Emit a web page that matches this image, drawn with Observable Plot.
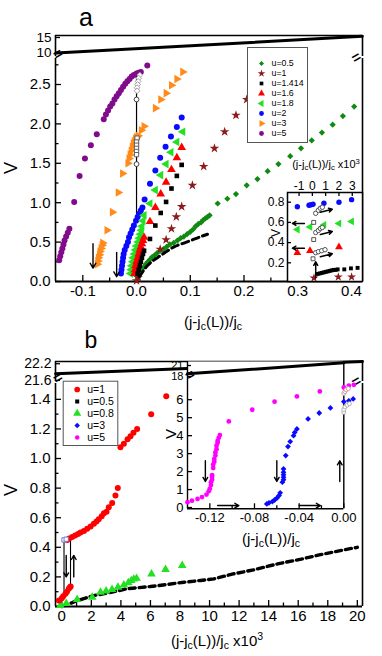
<!DOCTYPE html>
<html><head><meta charset="utf-8">
<script src="https://cdn.jsdelivr.net/npm/d3@7"></script>
<script src="https://cdn.jsdelivr.net/npm/@observablehq/plot@0.6"></script>
<style>
body{margin:0;background:#fff;}
#root{position:relative;width:382px;height:656px;overflow:hidden;font-family:"Liberation Sans",Arial,Helvetica,sans-serif;color:#000;}
#root svg{position:absolute;left:0;top:0;}
.lbl{position:absolute;white-space:nowrap;line-height:1;}
.lbl sub{font-size:70%;vertical-align:-0.3em;line-height:0;}
.lbl sup{font-size:70%;vertical-align:0.5em;line-height:0;}
</style></head><body><div id="root"></div>
<script>
// ================= DATA =================
// Panel a, main: [x = (j-jc(L))/jc, V]
const a_u05 = [[0.002,0.04],[0.005,0.09],[0.009,0.14],[0.013,0.18],[0.017,0.22],[0.021,0.25],[0.025,0.28],[0.029,0.31],[0.033,0.33],[0.038,0.36],[0.044,0.39],[0.050,0.41],[0.056,0.44],[0.062,0.47],[0.069,0.49],[0.076,0.52],[0.082,0.55],[0.088,0.57],[0.094,0.60],[0.100,0.63],[0.105,0.66],[0.110,0.70],[0.115,0.73],[0.120,0.75],[0.124,0.78],[0.128,0.80],[0.132,0.82],[0.136,0.84],[0.151,0.99],[0.169,1.05],[0.185,1.11],[0.205,1.22],[0.225,1.30],[0.244,1.40],[0.264,1.49],[0.286,1.59],[0.306,1.69],[0.326,1.79],[0.345,1.89],[0.365,1.99],[0.384,2.10],[0.405,2.22]];
const a_u1 = [[0.0,0.01],[0.003,0.05],[0.044,0.41],[0.055,0.53],[0.065,0.67],[0.074,0.82],[0.084,0.95],[0.104,1.22],[0.125,1.46],[0.145,1.69],[0.164,1.90],[0.185,2.11],[0.205,2.31]];
const a_u1414 = [[0.002,0.10],[0.004,0.15],[0.006,0.20],[0.008,0.25],[0.010,0.30],[0.012,0.35],[0.014,0.39],[0.025,0.54],[0.035,0.71],[0.045,0.87],[0.055,1.01],[0.065,1.18],[0.075,1.34],[0.084,1.48]];
const a_u1414low = [[0.005,0.06],[0.011,0.12],[0.020,0.20],[0.030,0.26],[0.045,0.33],[0.058,0.39],[0.070,0.44],[0.085,0.48],[0.101,0.52],[0.116,0.56],[0.132,0.60]];
const a_u16 = [[-0.004,0.10],[-0.003,0.15],[-0.002,0.20],[0.000,0.25],[0.002,0.30],[0.004,0.35],[0.006,0.40],[0.008,0.44],[0.010,0.48],[0.012,0.52],[0.014,0.56],[0.025,0.76],[0.035,0.94],[0.045,1.11],[0.055,1.26],[0.065,1.42],[0.075,1.57],[0.084,1.70]];
const a_u18 = [[-0.011,0.10],[-0.010,0.15],[-0.009,0.20],[-0.007,0.25],[-0.006,0.30],[-0.004,0.35],[-0.002,0.40],[0.000,0.45],[0.003,0.50],[0.005,0.55],[0.007,0.60],[0.009,0.65],[0.010,0.70],[0.012,0.77],[0.014,0.84],[0.025,0.99],[0.035,1.16],[0.045,1.35],[0.055,1.49],[0.064,1.64],[0.075,1.77],[0.086,1.90]];
const a_u2 = [[-0.029,0.10],[-0.028,0.15],[-0.027,0.20],[-0.026,0.25],[-0.025,0.30],[-0.024,0.35],[-0.022,0.40],[-0.019,0.45],[-0.016,0.50],[-0.014,0.56],[-0.011,0.61],[-0.008,0.66],[-0.005,0.71],[-0.001,0.77],[0.002,0.82],[0.005,0.86],[0.008,0.90],[0.011,0.94],[0.015,1.04],[0.025,1.24],[0.035,1.41],[0.044,1.57],[0.054,1.71],[0.064,1.84],[0.075,1.96],[0.084,2.08]];
const a_u3 = [[-0.073,0.22],[-0.072,0.26],[-0.071,0.30],[-0.069,0.34],[-0.068,0.38],[-0.066,0.42],[-0.064,0.46],[-0.063,0.49],[-0.055,0.65],[-0.045,0.88],[-0.034,1.13],[-0.026,1.37],[-0.016,1.50],[-0.014,1.56],[-0.012,1.61],[-0.010,1.66],[-0.008,1.71],[-0.006,1.75],[-0.004,1.78],[-0.002,1.81],[0.000,1.83],[0.003,1.85],[0.009,1.92],[0.014,1.97],[0.035,2.20],[0.045,2.31],[0.055,2.39],[0.065,2.49],[0.075,2.57],[0.086,2.66]];
const a_u5 = [[-0.144,0.27],[-0.142,0.32],[-0.140,0.37],[-0.138,0.42],[-0.136,0.47],[-0.134,0.52],[-0.131,0.57],[-0.128,0.62],[-0.125,0.67],[-0.116,1.01],[-0.106,1.34],[-0.096,1.56],[-0.085,1.73],[-0.074,1.87],[-0.061,2.06],[-0.057,2.12],[-0.053,2.17],[-0.049,2.22],[-0.045,2.26],[-0.041,2.31],[-0.037,2.35],[-0.033,2.39],[-0.029,2.43],[-0.025,2.47],[-0.021,2.51],[-0.017,2.54],[-0.013,2.57],[-0.009,2.60],[-0.005,2.62],[0.000,2.64],[0.004,2.65],[0.008,2.66],[0.020,2.74]];
const a_hystLine = [[0,0.86],[0,2.66]];
const a_openDiamonds = [[0.006,2.62],[0.004,2.58],[0.003,2.54],[0.002,2.50],[0.001,2.46],[0.001,2.42]];
const a_openCircles = [[0,2.31],[0,1.49]];
const a_openSquares = [[0.001,1.82],[0.0,1.77],[0.0,1.73],[0.0,1.69],[0.0,1.65],[0.0,1.61]];
const a_arrows = [[-0.081,0.48,-0.081,0.17],[-0.037,0.37,-0.037,0.06]];
const a_highLine = [[-0.15,9.8],[0.42,15.4]];
const a_labels = ["u=0.5","u=1","u=1.414","u=1.6","u=1.8","u=2","u=3","u=5"];
const a_colors = ["#118a11","#8b1c1c","#000000","#ff0000","#22e022","#0a0aff","#ff8c1a","#800c8c"];
// Panel a ticks
const a_xTicks = [-0.1,0,0.1,0.2,0.3,0.4];
const a_xMinor = [-0.05,0.05,0.15,0.25,0.35];
const a_yTicks = [0,0.5,1,1.5,2,2.5];
const a_yMinor = [0.25,0.75,1.25,1.75,2.25,2.75];
const a_hiTicks = [10,15];

// Panel a inset: [x (x10^3), V]
const ai_u2 = [[-1.13,0.755],[-0.25,0.77],[-0.1,0.775],[0.05,0.78],[0.87,0.79],[2.0,0.80],[2.95,0.825]];
const ai_u18 = [[-1.13,0.53],[-0.18,0.555],[0.87,0.575],[2.0,0.59],[2.95,0.61]];
const ai_u16 = [[-1.13,0.30],[-0.18,0.32],[2.0,0.356]];
const ai_u1414 = [[0.4,0.09],[0.55,0.095],[0.7,0.10],[0.85,0.105],[1.0,0.11],[1.15,0.115],[1.3,0.12],[1.45,0.125],[1.6,0.13],[1.75,0.13],[1.9,0.135],[2.4,0.135],[2.9,0.145],[3.4,0.15]];
const ai_u1 = [[0.12,0.05],[1.95,0.06],[2.95,0.06]];
const ai_openCircles = [[0.25,0.69],[0.45,0.72],[0.6,0.74],[0.75,0.75],[0.25,0.50],[0.45,0.52],[0.6,0.54],[0.75,0.55],[0.25,0.30],[0.45,0.31],[0.7,0.32],[0.95,0.33]];
const ai_openSquares = [[0.1,0.60],[0.1,0.43],[0.05,0.24]];
const ai_arrows = [[-0.6,0.59,-1.5,0.59],[-0.6,0.345,-1.5,0.345],[0.6,0.70,1.5,0.73],[0.6,0.48,1.5,0.51],[0.6,0.26,1.5,0.29],[0.25,0.05,0.25,0.21]];
const ai_xTicks = [-1,0,1,2,3];
const ai_yTicks = [0.2,0.4,0.6,0.8];

// Panel b, main: [x (x10^3), V]
const b_u1 = [[-0.2,0.04],[0.0,0.055],[0.1,0.07],[0.25,0.086],[0.35,0.10],[0.47,0.12],[0.55,0.13],[0.6,0.135],[0.37,0.45],[0.5,0.46],[0.7,0.47],[0.9,0.48],[1.1,0.49],[1.27,0.50],[1.5,0.51],[1.72,0.525],[1.95,0.54],[2.17,0.56],[2.35,0.575],[2.5,0.59],[2.7,0.61],[2.85,0.63],[3.03,0.64],[3.18,0.67],[3.41,0.70],[3.63,0.75],[3.79,0.80],[3.97,1.076],[4.2,1.10],[4.45,1.13],[4.65,1.15],[4.85,1.175],[5.1,1.20],[6.05,1.30],[7.07,1.42]];
const b_u05 = [[0.0,0.0],[0.25,0.007],[1.04,0.04],[2.17,0.074],[3.07,0.09],[4.43,0.12],[6.0,0.135],[7.13,0.149],[8.26,0.164],[9.39,0.176],[10.3,0.187],[11.6,0.22],[13.0,0.248],[14.6,0.288],[16.2,0.32],[17.5,0.35],[19.1,0.383],[20.0,0.40]];
const b_u08 = [[-0.09,0.007],[0.3,0.02],[1.04,0.047],[2.06,0.063],[2.62,0.097],[3.0,0.105],[3.4,0.115],[3.8,0.13],[4.2,0.145],[4.5,0.16],[4.7,0.175],[4.87,0.185],[5.06,0.19],[6.07,0.22],[7.02,0.25],[8.15,0.277]];
const b_hyst = [[0.15,0.09,0.15,0.45],[0.59,0.135,0.59,0.46]];
const b_arrows = [[0.3,0.345,0.3,0.2],[0.81,0.2,0.81,0.345]];
const b_open = [[0.15,0.45],[0.3,0.455]];
const b_highLine = [[-0.42,21.84],[20.35,22.28]];
const b_labels = ["u=1","u=0.5","u=0.8","u=3","u=5"];
const b_colors = ["#ff0000","#000000","#22e022","#0a0aff","#ff00ff"];
const b_xTicks = [0,2,4,6,8,10,12,14,16,18,20];
const b_xMinor = [1,3,5,7,9,11,13,15,17,19];
const b_yTicks = [0,0.2,0.4,0.6,0.8,1.0,1.2,1.4];
const b_yMinor = [0.1,0.3,0.5,0.7,0.9,1.1,1.3];
const b_hiTicks = [21.6,22.2];

// Panel b inset: [x = (j-jc(L))/jc, V]
const bi_u5 = [[-0.140,0.30],[-0.136,0.38],[-0.131,0.48],[-0.127,0.58],[-0.123,0.72],[-0.121,0.90],[-0.120,1.05],[-0.119,1.25],[-0.119,1.41],[-0.118,1.55],[-0.118,1.70],[-0.118,1.80],[-0.117,2.20],[-0.117,2.40],[-0.116,2.55],[-0.116,2.70],[-0.115,2.90],[-0.115,3.07],[-0.114,3.25],[-0.114,3.44],[-0.113,3.60],[-0.113,3.72],[-0.112,3.88],[-0.111,4.03],[-0.103,4.79],[-0.082,5.44],[-0.062,5.89],[-0.042,6.18],[-0.0215,6.46],[0.0,6.68],[0.0045,6.78],[0.009,6.83]];
const bi_u3 = [[-0.069,0.20],[-0.067,0.26],[-0.064,0.33],[-0.062,0.42],[-0.060,0.52],[-0.058,0.67],[-0.057,0.82],[-0.055,1.41],[-0.054,1.55],[-0.054,1.68],[-0.054,1.82],[-0.054,1.96],[-0.054,2.15],[-0.052,2.89],[-0.050,3.39],[-0.048,3.67],[-0.045,4.00],[-0.044,4.18],[-0.042,4.37],[-0.032,4.93],[-0.022,5.26],[-0.012,5.54],[0.0,5.89],[0.0045,5.94],[0.0084,6.04]];
const bi_open5 = [[0.0,6.35],[0.001,6.45],[0.002,6.55],[0.004,6.62]];
const bi_open3 = [[0.0,5.30],[0.0,5.45],[0.001,5.60],[0.003,5.70],[0.005,5.78]];
const bi_arrows = [[-0.124,2.6,-0.124,1.45],[-0.060,2.6,-0.060,1.45],[-0.0036,1.45,-0.0036,2.6],[-0.113,0.11,-0.094,0.11],[-0.040,0.11,-0.021,0.11]];
const bi_highLine = [[-0.14,18.74],[0.0,21.73]];
const bi_xTicks = [-0.12,-0.08,-0.04,0];
const bi_xMinor = [-0.10,-0.06,-0.02];
const bi_yTicks = [0,1,2,3,4,5,6];
const bi_hiTicks = [18,21];

// ================= RENDERING =================
const W = 382, H = 656;
const FONT = '"Liberation Sans", Arial, Helvetica, sans-serif';
const root = document.getElementById("root");
const X = d => d[0], Y = d => d[1];

function triSym(dir) {
  return {draw(ctx, size) {
    const a = Math.sqrt(size * 4 / Math.sqrt(3)), h = a * Math.sqrt(3) / 2;
    ctx.moveTo(dir * 2 * h / 3, 0); ctx.lineTo(-dir * h / 3, -a / 2); ctx.lineTo(-dir * h / 3, a / 2); ctx.closePath();
  }};
}
const TRI_R = triSym(1), TRI_L = triSym(-1);
const a_symbols = ["diamond2","star","square","triangle",TRI_L,"circle",TRI_R,"circle"];
const a_radius = [2.8,3.0,2.6,3.2,3.2,3.0,3.2,3.0];
const b_symbols = ["circle","square","triangle","diamond2","circle"];
const b_radius = [3.0,2.4,3.2,2.6,2.4];

function panel(rect, xd, yd, marksFn) {
  const FW = rect.r - rect.l, FH = rect.b - rect.t;
  const svg = Plot.plot({
    width: W, height: H,
    marginLeft: rect.l, marginRight: W - rect.r, marginTop: rect.t, marginBottom: H - rect.b,
    x: {domain: xd, axis: null}, y: {domain: yd, axis: null},
    style: {background: "none", overflow: "visible", fontFamily: FONT, color: "black"},
    marks: marksFn(FW, FH)
  });
  root.appendChild(svg);
}
const tB = (v, FH, len, sw = 1.3) => Plot.ruleX(v, {x: d => d, insetTop: FH - len, stroke: "black", strokeWidth: sw});
const tT = (v, FH, len, sw = 1.3) => Plot.ruleX(v, {x: d => d, insetBottom: FH - len, stroke: "black", strokeWidth: sw});
const tL = (v, FW, len, sw = 1.3) => Plot.ruleY(v, {y: d => d, insetRight: FW - len, stroke: "black", strokeWidth: sw});
const lB = (v, fmt, fs, dy) => Plot.text(v, {x: d => d, text: fmt, frameAnchor: "bottom", lineAnchor: "top", dy, fontSize: fs, fill: "black"});
const lT = (v, fmt, fs, dy) => Plot.text(v, {x: d => d, text: fmt, frameAnchor: "top", lineAnchor: "bottom", dy: -dy, fontSize: fs, fill: "black"});
const lL = (v, fmt, fs, dx) => Plot.text(v, {y: d => d, text: fmt, frameAnchor: "left", textAnchor: "end", dx: -dx, fontSize: fs, fill: "black"});
const f1 = v => (v < 0 ? "-" : "") + Math.abs(v).toFixed(1);
const f2 = v => (v < 0 ? "-" : "") + Math.abs(v).toFixed(2);
const f0 = v => (v < 0 ? "-" : "") + Math.abs(v).toFixed(0);
const brk = (anchor, dx, dy) => Plot.text(["="], {frameAnchor: anchor, text: d => d, rotate: -30, fontSize: 15, fontWeight: "bold", dx, dy, fill: "black"});
const dots = (data, sym, r, fill) => Plot.dot(data, {x: X, y: Y, symbol: sym, r, fill});
const arrows = (data, sw = 1.4, hl = 5) => Plot.arrow(data, {x1: d => d[0], y1: d => d[1], x2: d => d[2], y2: d => d[3], stroke: "black", strokeWidth: sw, headLength: hl});

// ---------- Panel a : upper (broken) strip ----------
const A_XD = [-0.1508, 0.4205];
panel({l: 55, r: 362, t: 35, b: 56}, A_XD, [8.67, 15.67], (FW, FH) => [
  Plot.line(a_highLine, {x: X, y: Y, stroke: "black", strokeWidth: 3}),
  Plot.ruleX(A_XD, {stroke: "black", strokeWidth: 1.6}),
  Plot.ruleY([15.67], {stroke: "black", strokeWidth: 1.6}),
  tL(a_hiTicks, FW, 5),
  lL(a_hiTicks, f0, 13.5, 4),
  brk("bottom-left", 1, 4), brk("bottom-right", 0, 3)
]);

// ---------- Panel a : main ----------
panel({l: 55, r: 362, t: 58, b: 281}, A_XD, [0, 2.83], (FW, FH) => [
  Plot.ruleX(A_XD, {stroke: "black", strokeWidth: 1.6}),
  Plot.ruleY([0], {stroke: "black", strokeWidth: 1.8}),
  tB(a_xTicks, FH, 6), tB(a_xMinor, FH, 3.5),
  tL(a_yTicks, FW, 6), tL(a_yMinor, FW, 3.5),
  lB(a_xTicks, f1, 15, 4),
  lL(a_yTicks, f1, 15, 5),
  Plot.line(a_hystLine, {x: X, y: Y, stroke: "black", strokeWidth: 1.2}),
  dots(a_u05, a_symbols[0], a_radius[0], a_colors[0]),
  dots(a_u1, a_symbols[1], a_radius[1], a_colors[1]),
  dots(a_u5, a_symbols[7], a_radius[7], a_colors[7]),
  dots(a_u3, a_symbols[6], a_radius[6], a_colors[6]),
  dots(a_u2, a_symbols[5], a_radius[5], a_colors[5]),
  dots(a_u18, a_symbols[4], a_radius[4], a_colors[4]),
  dots(a_u16, a_symbols[3], a_radius[3], a_colors[3]),
  dots(a_u1414, a_symbols[2], a_radius[2], a_colors[2]),
  Plot.line(a_u1414low, {x: X, y: Y, stroke: "black", strokeWidth: 3.0, strokeDasharray: "7,4", curve: "catmull-rom"}),
  Plot.dot(a_openDiamonds, {x: X, y: Y, symbol: "diamond2", r: 2.6, stroke: "#9a9a9a", fill: "white", strokeWidth: 0.9}),
  Plot.dot(a_openSquares, {x: X, y: Y, symbol: "square", r: 2.4, stroke: "#555", fill: "white", strokeWidth: 0.9}),
  Plot.dot(a_openCircles, {x: X, y: Y, r: 2.4, stroke: "#333", fill: "white", strokeWidth: 0.9}),
  arrows(a_arrows, 1.4, 6)
]);

// ---------- Panel a : inset ----------
panel({l: 287, r: 362, t: 192, b: 281}, [-1.87, 3.77], [0.015, 0.896], (FW, FH) => [
  Plot.frame({fill: "white", stroke: null}),
  tT(ai_xTicks, FH, 4), tL(ai_yTicks, FW, 4),
  lT(ai_xTicks, f0, 12, 3),
  lL(ai_yTicks, f1, 12, 3),
  dots(ai_u2, "circle", 2.7, a_colors[5]),
  dots(ai_u18, TRI_L, 2.9, a_colors[4]),
  dots(ai_u16, "triangle", 2.9, a_colors[3]),
  dots(ai_u1414, "square", 2.2, "black"),
  dots(ai_u1, "star", 2.8, a_colors[1]),
  Plot.dot(ai_openCircles, {x: X, y: Y, r: 2.2, stroke: "#444", fill: "white", strokeWidth: 0.9}),
  Plot.dot(ai_openSquares, {x: X, y: Y, symbol: "square", r: 2.2, stroke: "#444", fill: "white", strokeWidth: 0.9}),
  arrows(ai_arrows, 1.5, 4),
  Plot.frame({stroke: "black", strokeWidth: 1.5})
]);

// ---------- Panel a : legend ----------
{
  const svg = Plot.plot({
    width: W, height: H, marginLeft: 247, marginRight: W - 307, marginTop: 47, marginBottom: H - 142,
    x: {domain: [0, 1], axis: null},
    y: {type: "point", domain: a_labels, axis: null, padding: 0.6, insetTop: 6},
    style: {background: "none", overflow: "visible", fontFamily: FONT, color: "black"},
    marks: [
      Plot.frame({fill: "white", stroke: "#555", strokeWidth: 1}),
      ...a_labels.map((lab, i) => Plot.dot([lab], {y: d => d, frameAnchor: "left", dx: 14, symbol: a_symbols[i], r: a_radius[i] * 0.8, fill: a_colors[i]})),
      Plot.text(a_labels, {y: d => d, text: d => d, frameAnchor: "left", dx: 24, textAnchor: "start", fontSize: 8.8, fill: "black"})
    ]
  });
  root.appendChild(svg);
}

// ---------- Panel b : upper strip ----------
const B_XD = [-0.426, 20.35];
panel({l: 55, r: 362, t: 361, b: 381}, B_XD, [21.56, 22.28], (FW, FH) => [
  Plot.line(b_highLine, {x: X, y: Y, stroke: "black", strokeWidth: 3}),
  Plot.ruleX(B_XD, {stroke: "black", strokeWidth: 1.6}),
  Plot.ruleY([22.28], {stroke: "black", strokeWidth: 1.6}),
  tL(b_hiTicks, FW, 5),
  lL(b_hiTicks, f1, 14, 4),
  brk("bottom-left", 1, 3), brk("bottom-right", 0, 2)
]);

// ---------- Panel b : main ----------
panel({l: 55, r: 362, t: 383, b: 606}, B_XD, [0, 1.507], (FW, FH) => [
  Plot.ruleX(B_XD, {stroke: "black", strokeWidth: 1.6}),
  Plot.ruleY([0], {stroke: "black", strokeWidth: 1.8}),
  tB(b_xTicks, FH, 6), tB(b_xMinor, FH, 3.5),
  tL(b_yTicks, FW, 6), tL(b_yMinor, FW, 3.5),
  lB(b_xTicks, f0, 15, 4),
  lL(b_yTicks, f1, 15, 5),
  Plot.line(b_u05, {x: X, y: Y, stroke: "black", strokeWidth: 3.4, strokeDasharray: "6,4"}),
  dots(b_u08, b_symbols[2], b_radius[2], b_colors[2]),
  Plot.link(b_hyst, {x1: d => d[0], y1: d => d[1], x2: d => d[2], y2: d => d[3], stroke: "black", strokeWidth: 1.1}),
  dots(b_u1, b_symbols[0], b_radius[0], b_colors[0]),
  Plot.dot(b_open, {x: X, y: Y, symbol: "square", r: 2.4, stroke: "#7777cc", fill: "white", strokeWidth: 1}),
  arrows(b_arrows, 1.4, 5)
]);

// ---------- Panel b : inset strip ----------
const BI_XD = [-0.14, 0];
panel({l: 187, r: 343.3, t: 361, b: 378}, BI_XD, [17.45, 22.1], (FW, FH) => [
  Plot.frame({fill: "white", stroke: null}),
  Plot.line(bi_highLine, {x: X, y: Y, stroke: "black", strokeWidth: 3}),
  Plot.ruleX(BI_XD, {stroke: "black", strokeWidth: 1.4}),
  tL(bi_hiTicks, FW, 4),
  lL(bi_hiTicks, f0, 11, 4),
  brk("bottom-left", 1, 3)
]);

// ---------- Panel b : inset main ----------
panel({l: 187, r: 343.3, t: 378, b: 508.3}, BI_XD, [-0.07, 7.18], (FW, FH) => [
  Plot.frame({fill: "white", stroke: null}),
  Plot.ruleX(BI_XD, {stroke: "black", strokeWidth: 1.4}),
  Plot.ruleY([-0.07], {stroke: "black", strokeWidth: 1.4}),
  tB(bi_xTicks, FH, 5), tB(bi_xMinor, FH, 3),
  tL(bi_yTicks, FW, 5),
  lB(bi_xTicks, f2, 13, 4),
  lL(bi_yTicks, f0, 13, 4),
  dots(bi_u5, b_symbols[4], b_radius[4], b_colors[4]),
  dots(bi_u3, b_symbols[3], b_radius[3], b_colors[3]),
  Plot.dot(bi_open5, {x: X, y: Y, r: 2.0, stroke: "#c99", fill: "white", strokeWidth: 0.9}),
  Plot.dot(bi_open3, {x: X, y: Y, r: 2.0, stroke: "#aaa", fill: "white", strokeWidth: 0.9}),
  arrows(bi_arrows, 1.4, 5)
]);

// ---------- Panel b : legend ----------
{
  const svg = Plot.plot({
    width: W, height: H, marginLeft: 62.7, marginRight: W - 117.3, marginTop: 380.7, marginBottom: H - 445,
    x: {domain: [0, 1], axis: null},
    y: {type: "point", domain: b_labels, axis: null, padding: 0.57},
    style: {background: "none", overflow: "visible", fontFamily: FONT, color: "black"},
    marks: [
      Plot.frame({fill: "white", stroke: "#555", strokeWidth: 1}),
      ...b_labels.map((lab, i) => Plot.dot([lab], {y: d => d, frameAnchor: "left", dx: 14, symbol: b_symbols[i], r: b_radius[i] * 0.95, fill: b_colors[i]})),
      Plot.text(b_labels, {y: d => d, text: d => d, frameAnchor: "left", dx: 24, textAnchor: "start", fontSize: 10.5, fill: "black"})
    ]
  });
  root.appendChild(svg);
}

// ---------- HTML text labels (with sub/superscripts) ----------
function label(html, cx, cy, size, rot) {
  const d = document.createElement("div");
  d.className = "lbl"; d.innerHTML = html;
  d.style.left = cx + "px"; d.style.top = cy + "px"; d.style.fontSize = size + "px";
  d.style.transform = "translate(-50%,-50%)" + (rot ? ` rotate(${rot}deg)` : "");
  root.appendChild(d);
}
const JLAB = "(j-j<sub>c</sub>(L))/j<sub>c</sub>";
label("a", 86, 17, 25);
label("b", 91, 340, 23);
label("V", 11, 168, 18, -90);
label("V", 11, 490, 18, -90);
label(JLAB, 213, 321, 15);
label(JLAB + " x10<sup>3</sup>", 217, 640, 15);
label(JLAB + " x10<sup>3</sup>", 326, 164, 11);
label("V", 276, 233, 12, -90);
label(JLAB, 271, 538, 15);
label("V", 170, 434, 15, -90);
</script></body></html>
